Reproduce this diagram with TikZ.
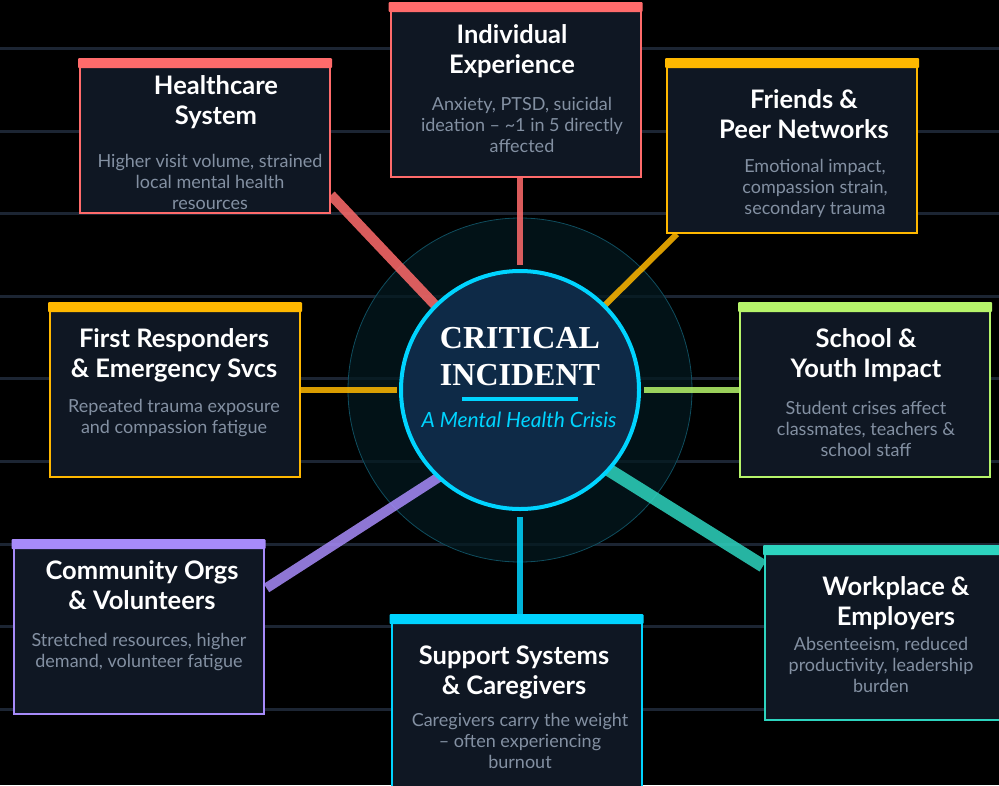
\documentclass[tikz,border=0pt]{standalone}
\usepackage{fontspec}
\setmainfont{Lato}
\newfontfamily\coreserif{Liberation Serif}
\usetikzlibrary{calc}

\definecolor{coral}{HTML}{FF6B6B}
\definecolor{amber}{HTML}{FFB800}
\definecolor{lime}{HTML}{B6F46A}
\definecolor{lilac}{HTML}{A78BFA}
\definecolor{skycyan}{HTML}{00D4FF}
\definecolor{seateal}{HTML}{2DD4BF}
\definecolor{cardbg}{HTML}{0F1723}
\definecolor{descgray}{HTML}{8390A2}
\definecolor{gridline}{HTML}{1C2533}
\definecolor{corefill}{HTML}{0E2A47}
\definecolor{halofill}{HTML}{03191F}
\definecolor{haloedge}{HTML}{0F4D5E}

\tikzset{
  card/.style={draw=#1, line width=2pt, fill=cardbg, minimum width=250pt,
               minimum height=173pt, inner sep=0pt},
  cardtitle/.style={text=white, align=center,
                    font=\fontsize{25.5}{30}\selectfont\bfseries},
  carddesc/.style={text=descgray, align=center,
                   font=\fontsize{18}{21}\selectfont},
  spoke/.style={draw=#1, opacity=0.85},
}

\begin{document}
\begin{tikzpicture}[x=1pt, y=-1pt]
  \useasboundingbox (0,0) rectangle (999,785);
  \clip (0,0) rectangle (999,785);
  \fill[black] (0,0) rectangle (999,785);

  % background rules
  \foreach \r in {0,...,8}
    \draw[gridline, line width=3pt] (0,48.5+82.6*\r) -- (999,48.5+82.6*\r);

  % halo and core
  \node[circle, minimum size=344pt, fill=halofill, fill opacity=0.75,
        draw=haloedge, line width=0.8pt] (halo) at (520,390) {};
  \node[circle, minimum size=238pt, inner sep=0pt] (core) at (520,390) {};

  % Cards
  \node[card=coral, minimum height=153pt] (hc)  at (205,136.5) {};
  \node[card=coral]   (ind) at (515.5,90.5) {};
  \node[card=amber]   (fr)  at (792,146.5) {};
  \node[card=amber]   (er)  at (175,390.5) {};
  \node[card=lime]    (sch) at (865,390.5) {};
  \node[card=lilac]   (com) at (138.5,627.5) {};
  \node[card=skycyan] (sup) at (516.5,702.5) {};
  \node[card=seateal] (wrk) at (890,633.5) {};

  % Spokes (under the core)
  \draw[spoke=coral, line width=6pt, shorten >=6pt] (ind.south -| core) -- (core.north);
  \draw[spoke=coral, line width=10pt] ($(hc.south east)+(0,-19)$) -- (core.135);
  \draw[spoke=amber, line width=6pt] ($(fr.south west)+(11,0)$) -- (core.45);
  \draw[spoke=amber, line width=6pt, shorten >=4pt] (er.east |- core) -- (core.west);
  \draw[spoke=lime, line width=6pt, shorten >=5pt] (sch.west |- core) -- (core.east);
  \draw[spoke=skycyan, line width=6pt, shorten >=8pt] (sup.north -| core) -- (core.south);
  \draw[spoke=lilac, line width=10pt] ($(com.north east)+(2,48)$) -- (core.-133);
  \draw[spoke=seateal, line width=13pt] ($(wrk.north west)+(-1,20)$) -- (core.-42);

  % core circle on top of spokes
  \node[circle, minimum size=238pt, inner sep=0pt, fill=corefill,
        draw=skycyan, line width=4pt] at (core) {};

  % cards redrawn on top of the spokes
  \node[card=coral, minimum height=153pt] at (hc) {};
  \node[card=coral]   at (ind) {};
  \node[card=amber]   at (fr) {};
  \node[card=amber]   at (er) {};
  \node[card=lime]    at (sch) {};
  \node[card=lilac]   at (com) {};
  \node[card=skycyan] at (sup) {};
  \node[card=seateal] at (wrk) {};

  % top bars
  \foreach \c/\col in {hc/coral, ind/coral, fr/amber, er/amber, sch/lime,
                       com/lilac, sup/skycyan, wrk/seateal}
    \fill[\col, rounded corners=1pt] ($(\c.north west)+(-1,-1)$)
      rectangle ($(\c.north east)+(1,9)$);

  % Core text
  \node[text=white, align=center,
        font=\coreserif\bfseries\fontsize{32}{37}\selectfont] (ci) at (520,357)
        {CRITICAL\\INCIDENT};
  \draw[skycyan, line width=4pt] (462,399) -- (578,399);
  \node[text=skycyan, font=\itshape\fontsize{21}{24}\selectfont] (sub) at (519,420)
        {A Mental Health Crisis};

  % Healthcare
  \node[cardtitle] (hc-t) at (216,102) {Healthcare\\System};
  \node[carddesc]  (hc-d) at (210,182) {Higher visit volume, strained\\local mental health\\resources};
  % Individual
  \node[cardtitle] (ind-t) at (512,51) {Individual\\Experience};
  \node[carddesc]  (ind-d) at (522,125) {Anxiety, PTSD, suicidal\\ideation – \textasciitilde1 in 5 directly\\affected};
  % Friends
  \node[cardtitle] (fr-t) at (804,114) {Friends \&\\Peer Networks};
  \node[carddesc]  (fr-d) at (815,188) {Emotional impact,\\compassion strain,\\secondary trauma};
  % First responders
  \node[cardtitle] (er-t) at (174,355.5) {First Responders\\\& Emergency Svcs};
  \node[carddesc]  (er-d) at (174,418.5) {Repeated trauma exposure\\and compassion fatigue};
  % School
  \node[cardtitle] (sch-t) at (866,355.5) {School \&\\Youth Impact};
  \node[carddesc]  (sch-d) at (866,428.5) {Student crises affect\\classmates, teachers \&\\school staff};
  % Community
  \node[cardtitle] (com-t) at (142,585) {Community Orgs\\\& Volunteers};
  \node[carddesc]  (com-d) at (139,652.5) {Stretched resources, higher\\demand, volunteer fatigue};
  % Support
  \node[cardtitle] (sup-t) at (514,672) {Support Systems\\\& Caregivers};
  \node[carddesc]  (sup-d) at (520,741) {Caregivers carry the weight\\– often experiencing\\burnout};
  % Workplace
  \node[cardtitle] (wrk-t) at (896,603) {Workplace \&\\Employers};
  \node[carddesc]  (wrk-d) at (881,664.5) {Absenteeism, reduced\\productivity, leadership\\burden};
\end{tikzpicture}
\end{document}
